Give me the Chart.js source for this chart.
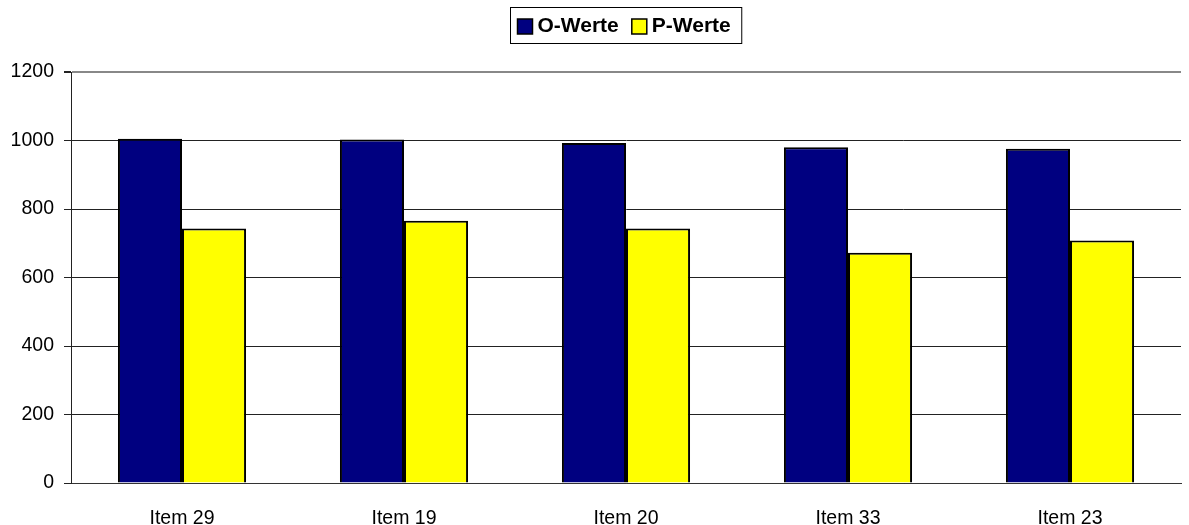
<!DOCTYPE html>
<html>
<head>
<meta charset="utf-8">
<script src="https://cdn.jsdelivr.net/npm/chart.js@4/dist/chart.umd.min.js"></script>
<style>
  html, body { margin: 0; padding: 0; background: #fff; }
  #wrap { width: 1189px; height: 525px; }
</style>
</head>
<body>
<div id="wrap"><canvas id="c" width="1189" height="525"></canvas></div>
<script>
// Categories and series values
const categories = ['Item 29', 'Item 19', 'Item 20', 'Item 33', 'Item 23'];
const oWerte = [1005, 1003, 993, 980, 976];
const pWerte = [743, 766, 743, 672, 708];
const seriesNames = ['O-Werte', 'P-Werte'];
const seriesColors = ['#000080', '#FFFF00'];
const yTicks = [0, 200, 400, 600, 800, 1000, 1200];

const FONT = '"Liberation Sans", Arial, sans-serif';

// Legend drawn as a framed box centred over the plot area
const boxedLegend = {
  id: 'boxedLegend',
  afterDraw(chart) {
    const ctx = chart.ctx;
    const area = chart.chartArea;
    ctx.save();
    ctx.font = 'bold 21px ' + FONT;
    const sw = 15, gap = 5, itemGap = 13, padL = 7, padR = 11;
    const widths = seriesNames.map(n => ctx.measureText(n).width);
    let total = padL + padR;
    widths.forEach((w, i) => { total += sw + gap + w + (i < widths.length - 1 ? itemGap : 0); });
    const cx = (area.left + area.right) / 2;
    const left = Math.round(cx - total / 2) + 0.5;
    const top = 7.5, h = 36;
    ctx.strokeStyle = '#000';
    ctx.lineWidth = 1;
    ctx.strokeRect(left, top, total, h);
    let x = left + padL;
    const midY = top + h / 2 + 1;
    ctx.textBaseline = 'middle';
    seriesNames.forEach((n, i) => {
      ctx.fillStyle = seriesColors[i];
      ctx.fillRect(x, midY - sw / 2, sw, sw);
      ctx.strokeStyle = '#000';
      ctx.lineWidth = 1.5;
      ctx.strokeRect(x, midY - sw / 2, sw, sw);
      x += sw + gap;
      ctx.fillStyle = '#000';
      ctx.fillText(n, x, midY);
      x += widths[i] + itemGap;
    });
    ctx.restore();
  }
};

new Chart(document.getElementById('c'), {
  type: 'bar',
  data: {
    labels: categories,
    datasets: [
      { label: seriesNames[0], data: oWerte, backgroundColor: seriesColors[0],
        borderColor: '#000', borderWidth: 2 },
      { label: seriesNames[1], data: pWerte, backgroundColor: seriesColors[1],
        borderColor: '#000', borderWidth: 2 }
    ]
  },
  options: {
    responsive: false,
    animation: false,
    devicePixelRatio: 1,
    layout: { padding: { top: 72, right: 8, left: 0, bottom: 0 } },
    datasets: { bar: { categoryPercentage: 0.577, barPercentage: 1.0 } },
    plugins: {
      legend: { display: false },
      tooltip: { enabled: false }
    },
    scales: {
      x: {
        grid: { display: false },
        border: { display: true, color: '#333', width: 1 },
        ticks: { color: '#000', font: { family: FONT, size: 19.5 }, padding: 16, maxRotation: 0 },
        afterFit(scale) { scale.height = 42; }
      },
      y: {
        min: 0,
        max: 1200,
        afterBuildTicks(scale) { scale.ticks = yTicks.map(v => ({ value: v })); },
        grid: {
          color: ctx => ctx.tick && ctx.tick.value === 1200 ? '#888' : '#222',
          lineWidth: ctx => ctx.tick && ctx.tick.value === 1200 ? 2 : 1,
          tickLength: 7,
          tickColor: '#222'
        },
        border: { display: true, color: '#222', width: 1 },
        ticks: {
          color: '#000',
          font: { family: FONT, size: 19.5 },
          padding: 10,
          callback: value => String(value)
        },
        afterFit(scale) { scale.width = 71; }
      }
    }
  },
  plugins: [boxedLegend]
});
</script>
</body>
</html>
